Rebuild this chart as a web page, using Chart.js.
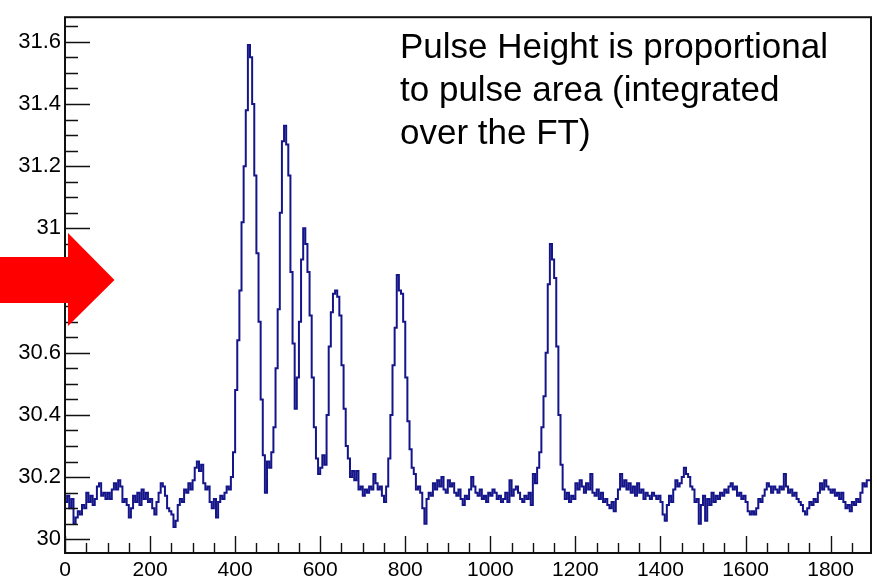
<!DOCTYPE html>
<html>
<head>
<meta charset="utf-8">
<script src="https://cdn.jsdelivr.net/npm/chart.js@4/dist/chart.umd.min.js"></script>
<style>
  html, body { margin: 0; padding: 0; background: #ffffff; }
  #wrap { width: 877px; height: 580px; }
</style>
</head>
<body>
<div id="wrap"><canvas id="c" width="877" height="580"></canvas></div>
<script>
// Pulse-height histogram: 5-unit bins starting at 0
const binWidth = 5;
const pulseHeight = [
  // 0 - 95
  30.12, 30.14, 30.10, 30.13, 30.05, 30.07, 30.09, 30.08, 30.11, 30.10,
  30.15, 30.12, 30.14, 30.11, 30.13, 30.17, 30.18, 30.14, 30.15, 30.13,
  // 100 - 195
  30.15, 30.13, 30.16, 30.18, 30.16, 30.19, 30.17, 30.12, 30.13, 30.11,
  30.07, 30.10, 30.14, 30.12, 30.15, 30.11, 30.16, 30.13, 30.15, 30.12,
  // 200 - 295
  30.13, 30.10, 30.08, 30.12, 30.15, 30.18, 30.17, 30.14, 30.10, 30.09,
  30.08, 30.04, 30.06, 30.11, 30.13, 30.12, 30.16, 30.15, 30.18, 30.16,
  // 300 - 395
  30.19, 30.23, 30.25, 30.22, 30.24, 30.18, 30.16, 30.17, 30.12, 30.10,
  30.13, 30.07, 30.12, 30.14, 30.13, 30.15, 30.17, 30.16, 30.20, 30.28,
  // 400 - 495
  30.48, 30.64, 30.80, 31.02, 31.20, 31.38, 31.59, 31.55, 31.40, 31.17,
  30.92, 30.70, 30.45, 30.27, 30.15, 30.25, 30.23, 30.28, 30.36, 30.55,
  // 500 - 595
  30.74, 31.05, 31.28, 31.33, 31.27, 31.17, 30.86, 30.63, 30.42, 30.52,
  30.70, 30.90, 31.00, 30.95, 30.86, 30.72, 30.52, 30.36, 30.26, 30.21,
  // 600 - 695
  30.23, 30.27, 30.24, 30.40, 30.62, 30.73, 30.79, 30.80, 30.78, 30.72,
  30.56, 30.42, 30.30, 30.26, 30.20, 30.22, 30.19, 30.22, 30.16, 30.17,
  // 700 - 795
  30.14, 30.16, 30.15, 30.17, 30.16, 30.21, 30.18, 30.16, 30.17, 30.14,
  30.12, 30.17, 30.26, 30.40, 30.56, 30.68, 30.85, 30.80, 30.79, 30.70,
  // 800 - 895
  30.52, 30.38, 30.29, 30.23, 30.21, 30.16, 30.17, 30.15, 30.10, 30.05,
  30.13, 30.15, 30.14, 30.18, 30.16, 30.19, 30.17, 30.20, 30.16, 30.15,
  // 900 - 995
  30.19, 30.17, 30.18, 30.15, 30.14, 30.16, 30.13, 30.11, 30.14, 30.13,
  30.16, 30.20, 30.17, 30.15, 30.14, 30.16, 30.13, 30.14, 30.12, 30.15,
  // 1000 - 1095
  30.14, 30.16, 30.15, 30.13, 30.14, 30.12, 30.13, 30.15, 30.12, 30.19,
  30.14, 30.16, 30.17, 30.15, 30.13, 30.12, 30.14, 30.13, 30.15, 30.11,
  // 1100 - 1195
  30.21, 30.18, 30.23, 30.28, 30.36, 30.46, 30.60, 30.82, 30.95, 30.90,
  30.84, 30.62, 30.40, 30.24, 30.16, 30.13, 30.15, 30.12, 30.14, 30.13,
  // 1200 - 1295
  30.18, 30.16, 30.19, 30.17, 30.15, 30.18, 30.16, 30.21, 30.15, 30.14,
  30.16, 30.13, 30.15, 30.12, 30.13, 30.11, 30.10, 30.12, 30.09, 30.13,
  // 1300 - 1395
  30.16, 30.21, 30.17, 30.19, 30.16, 30.18, 30.15, 30.17, 30.14, 30.18,
  30.15, 30.16, 30.13, 30.15, 30.14, 30.13, 30.15, 30.14, 30.13, 30.14,
  // 1400 - 1495
  30.12, 30.08, 30.06, 30.11, 30.14, 30.12, 30.16, 30.19, 30.17, 30.18,
  30.20, 30.23, 30.21, 30.20, 30.17, 30.16, 30.12, 30.13, 30.05, 30.11,
  // 1500 - 1595
  30.14, 30.06, 30.13, 30.11, 30.15, 30.12, 30.14, 30.13, 30.15, 30.14,
  30.16, 30.15, 30.17, 30.18, 30.16, 30.17, 30.14, 30.15, 30.13, 30.14,
  // 1600 - 1695
  30.12, 30.09, 30.08, 30.09, 30.08, 30.10, 30.13, 30.12, 30.14, 30.16,
  30.18, 30.17, 30.15, 30.17, 30.16, 30.15, 30.17, 30.16, 30.21, 30.17,
  // 1700 - 1795
  30.15, 30.16, 30.14, 30.15, 30.13, 30.12, 30.11, 30.09, 30.08, 30.10,
  30.12, 30.11, 30.13, 30.12, 30.15, 30.18, 30.16, 30.19, 30.17, 30.16,
  // 1800 - 1890
  30.15, 30.16, 30.14, 30.15, 30.13, 30.15, 30.12, 30.10, 30.11, 30.09,
  30.12, 30.11, 30.13, 30.12, 30.15, 30.18, 30.17, 30.19, 30.19
];

const xTickValues = [0, 200, 400, 600, 800, 1000, 1200, 1400, 1600, 1800];
const yTickValues = [30, 30.2, 30.4, 30.6, 30.8, 31, 31.2, 31.4, 31.6];
const xMinorStep = 50;
const yMinorStep = 0.05;
const xRange = [0, 1895];
const yRange = [29.956, 31.679];
const noteLines = ['Pulse Height is proportional', 'to pulse area (integrated', 'over the FT)'];

// histogram as left-edge points, closed with the right edge of the last bin
const histPoints = pulseHeight.map((v, i) => ({ x: i * binWidth, y: v }));
histPoints.push({ x: pulseHeight.length * binWidth, y: pulseHeight[pulseHeight.length - 1] });

const FONT = '"Liberation Sans", Arial, Helvetica, sans-serif';

// frame with inward major/minor ticks, drawn from the scales
const framePlugin = {
  id: 'frameTicks',
  afterDatasetsDraw(chart) {
    const { ctx, chartArea: a, scales: { x, y } } = chart;
    ctx.save();
    ctx.strokeStyle = '#111111';
    ctx.lineWidth = 1.4;
    ctx.beginPath();
    // x ticks
    for (let v = 0; v <= xRange[1]; v += xMinorStep) {
      const px = Math.round(x.getPixelForValue(v)) + 0.5;
      const major = xTickValues.includes(v);
      ctx.moveTo(px, a.bottom);
      ctx.lineTo(px, a.bottom - (major ? 17 : 10));
    }
    // y ticks
    for (let k = 0; ; k++) {
      const v = 30 + k * yMinorStep;
      if (v > yRange[1]) break;
      const py = Math.round(y.getPixelForValue(v)) + 0.5;
      const major = k % 4 === 0;
      ctx.moveTo(a.left, py);
      ctx.lineTo(a.left + (major ? 25 : 13), py);
    }
    ctx.stroke();
    ctx.lineWidth = 2;
    ctx.strokeRect(a.left, a.top, a.right - a.left, a.bottom - a.top);
    ctx.restore();
  },
  afterDraw(chart) {
    const { ctx } = chart;
    ctx.save();
    // note text
    ctx.fillStyle = '#000000';
    ctx.font = '35px ' + FONT;
    ctx.textBaseline = 'alphabetic';
    ctx.textAlign = 'left';
    noteLines.forEach((t, i) => ctx.fillText(t, 400, 58 + i * 43));
    // red arrow
    ctx.fillStyle = '#ff0000';
    ctx.beginPath();
    ctx.moveTo(0, 257);
    ctx.lineTo(68, 257);
    ctx.lineTo(68, 233);
    ctx.lineTo(114.5, 280);
    ctx.lineTo(68, 326);
    ctx.lineTo(68, 303);
    ctx.lineTo(0, 303);
    ctx.closePath();
    ctx.fill();
    ctx.restore();
  }
};

new Chart(document.getElementById('c'), {
  type: 'line',
  data: {
    datasets: [{
      data: histPoints,
      stepped: 'before',
      borderColor: '#15158a',
      borderWidth: 2,
      pointRadius: 0,
      fill: false,
      tension: 0
    }]
  },
  options: {
    responsive: false,
    animation: false,
    devicePixelRatio: 1,
    layout: { padding: { left: 0, right: 6, top: 6, bottom: 0 } },
    plugins: { legend: { display: false }, tooltip: { enabled: false } },
    scales: {
      x: {
        type: 'linear',
        min: xRange[0],
        max: xRange[1],
        grid: { display: false, drawTicks: false },
        border: { display: false },
        afterBuildTicks: (s) => { s.ticks = xTickValues.map(v => ({ value: v })); },
        afterFit: (s) => { s.height = 27; },
        ticks: {
          autoSkip: false,
          maxRotation: 0,
          padding: 5,
          color: '#000000',
          font: { family: FONT, size: 21 },
          callback: (v) => String(v)
        }
      },
      y: {
        type: 'linear',
        min: yRange[0],
        max: yRange[1],
        grid: { display: false, drawTicks: false },
        border: { display: false },
        afterBuildTicks: (s) => { s.ticks = yTickValues.map(v => ({ value: v })); },
        afterFit: (s) => { s.width = 65; },
        ticks: {
          autoSkip: false,
          padding: 4,
          color: '#000000',
          font: { family: FONT, size: 22 },
          callback: (v) => String(Number(v.toFixed(2)))
        }
      }
    }
  },
  plugins: [framePlugin]
});
</script>
</body>
</html>
